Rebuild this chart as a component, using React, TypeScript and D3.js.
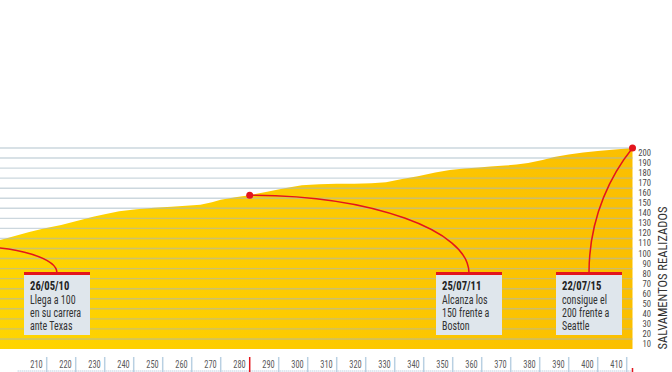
import React, { useEffect, useRef } from "react";
import * as d3 from "d3";

// partido (nº de juego) y salvamentos acumulados
const games = [180, 186, 190, 194, 199, 204, 209, 215, 220, 226, 230, 235, 241, 247, 253, 258, 263, 267, 270, 275, 280, 286, 292, 298, 304, 310, 316, 322, 327, 333, 338, 344, 349, 354, 359, 363, 368, 372, 376, 381, 385, 390, 395, 400, 404, 408, 412];
const saves = [98, 102, 105.5, 108.5, 112.5, 116.5, 120, 123.5, 127, 131.5, 134, 137, 139, 140.5, 141.5, 142.5, 143.5, 146, 148.5, 151, 153, 156.5, 160, 163, 164, 164.5, 164.5, 165, 166, 169.5, 172, 175.5, 178, 179.5, 180.5, 181.5, 182.5, 183.5, 185, 188, 191, 193.5, 195.5, 197, 198, 199, 200];

const xTickValues = [210, 220, 230, 240, 250, 260, 270, 280, 290, 300, 310, 320, 330, 340, 350, 360, 370, 380, 390, 400, 410];
const yTickValues = [10, 20, 30, 40, 50, 60, 70, 80, 90, 100, 110, 120, 130, 140, 150, 160, 170, 180, 190, 200];

const noteGames = [184, 280, 412];
const noteDates = ["26/05/10", "25/07/11", "22/07/15"];
const noteLines = [
  ["Llega a 100", "en su carrera", "ante Texas"],
  ["Alcanza los", "150 frente a", "Boston"],
  ["consigue el", "200 frente a", "Seattle"],
];

const yAxisTitle = "SALVAMENTOS REALIZADOS";

const RED = "#e3151c";
const FONT = "'Liberation Sans Narrow', 'Roboto Condensed', 'Arial Narrow', sans-serif";

export default function App() {
  const svgRef = useRef<SVGSVGElement>(null);

  useEffect(() => {
    const width = 672;
    const height = 372;
    const svg = d3.select(svgRef.current).attr("width", width).attr("height", height);
    svg.selectAll("*").remove();

    const x = d3.scaleLinear().domain([210, 410]).range([46.7, 626.7]);
    const y = d3.scaleLinear().domain([0, 200]).range([349, 148]);

    const data = games.map((g, i) => ({ g, v: saves[i] }));
    const lastX = x(games[games.length - 1]);

    const defs = svg.append("defs");
    const grad = defs
      .append("linearGradient")
      .attr("id", "yel")
      .attr("x1", "0%")
      .attr("x2", "100%")
      .attr("y1", "0%")
      .attr("y2", "0%");
    grad.append("stop").attr("offset", "0%").attr("stop-color", "#ffd600");
    grad.append("stop").attr("offset", "100%").attr("stop-color", "#fbbf00");

    const area = d3
      .area<{ g: number; v: number }>()
      .x((d) => x(d.g))
      .y0(y(0))
      .y1((d) => y(d.v));

    svg.append("path").datum(data).attr("d", area).attr("fill", "url(#yel)");

    // lineas de la cuadricula
    svg
      .append("g")
      .selectAll("line")
      .data(yTickValues)
      .enter()
      .append("line")
      .attr("x1", 0)
      .attr("x2", lastX)
      .attr("y1", (d) => y(d))
      .attr("y2", (d) => y(d))
      .attr("stroke", "#a3b6c2")
      .attr("stroke-opacity", 0.55)
      .attr("stroke-width", 1.4);

    // eje y a la derecha
    svg
      .append("g")
      .selectAll("text")
      .data(yTickValues)
      .enter()
      .append("text")
      .attr("x", 651)
      .attr("y", (d) => y(d) + 5)
      .attr("dy", "0.35em")
      .attr("text-anchor", "end")
      .attr("font-family", FONT)
      .attr("font-size", 8.6)
      .attr("fill", "#4a4a4a")
      .text((d) => d);

    svg
      .append("text")
      .attr("transform", "translate(667,278) rotate(-90)")
      .attr("text-anchor", "middle")
      .attr("font-family", FONT)
      .attr("font-size", 12.5)
      .attr("fill", "#333")
      .text(yAxisTitle);

    // eje x
    svg
      .append("line")
      .attr("x1", x(200))
      .attr("x2", lastX)
      .attr("y1", 371)
      .attr("y2", 371)
      .attr("stroke", "#9cbad3")
      .attr("stroke-width", 1)
      .attr("stroke-dasharray", "1,1");

    svg
      .append("g")
      .selectAll("line")
      .data(xTickValues)
      .enter()
      .append("line")
      .attr("x1", (d) => x(d))
      .attr("x2", (d) => x(d))
      .attr("y1", 357)
      .attr("y2", 372)
      .attr("stroke", (d) => (noteGames.includes(d) ? RED : "#b9d0e2"))
      .attr("stroke-width", 1.5);

    svg
      .append("g")
      .selectAll("text")
      .data(xTickValues)
      .enter()
      .append("text")
      .attr("transform", (d) => `translate(${x(d) - 4},364) scale(0.8,1)`)
      .attr("dy", "0.35em")
      .attr("text-anchor", "end")
      .attr("font-family", FONT)
      .attr("font-size", 10.5)
      .attr("fill", "#5a5a5a")
      .text((d) => d);

    svg
      .append("g")
      .selectAll("line")
      .data(noteGames.filter((g) => !xTickValues.includes(g)))
      .enter()
      .append("line")
      .attr("x1", (d) => x(d))
      .attr("x2", (d) => x(d))
      .attr("y1", 368)
      .attr("y2", 372)
      .attr("stroke", RED)
      .attr("stroke-width", 1.5);

    // anotaciones
    const boxX = [24, 436, 556];
    const boxW = 66;
    const boxTop = 274;
    const boxH = 61;
    const bends = [
      [0.55, 0, 0.55],
      [0.55, 0, 0.55],
      [0.44, 0.19, 0.47],
    ];
    const bis = d3.bisector((d: { g: number }) => d.g).left;

    noteGames.forEach((g, i) => {
      const idx = Math.min(bis(data, g), data.length - 1);
      const p0 = [x(g), y(data[idx].v)];
      const p1 = [boxX[i] + boxW / 2, boxTop - 1];
      const [a, b, c] = bends[i];
      const path = d3.path();
      path.moveTo(p0[0], p0[1]);
      path.bezierCurveTo(
        p0[0] + (p1[0] - p0[0]) * a,
        p0[1] + (p1[1] - p0[1]) * b,
        p1[0],
        p1[1] - (p1[1] - p0[1]) * c,
        p1[0],
        p1[1]
      );
      const gNote = svg.append("g");
      gNote
        .append("path")
        .attr("d", path.toString())
        .attr("fill", "none")
        .attr("stroke", RED)
        .attr("stroke-width", 1.5);
      gNote.append("circle").attr("cx", p0[0]).attr("cy", p0[1]).attr("r", 3.5).attr("fill", RED);
      gNote
        .append("rect")
        .attr("x", boxX[i])
        .attr("y", boxTop)
        .attr("width", boxW)
        .attr("height", boxH)
        .attr("fill", "#dfe6ec");
      gNote
        .append("rect")
        .attr("x", boxX[i])
        .attr("y", boxTop - 2)
        .attr("width", boxW)
        .attr("height", 3)
        .attr("fill", RED);
      gNote
        .append("text")
        .attr("transform", `translate(${boxX[i] + 6},290) scale(0.82,1)`)
        .attr("font-family", FONT)
        .attr("font-size", 13)
        .attr("font-weight", "bold")
        .attr("fill", "#222")
        .text(noteDates[i]);
      noteLines[i].forEach((t, j) => {
        gNote
          .append("text")
          .attr("transform", `translate(${boxX[i] + 6},${304 + j * 13}) scale(0.8,1)`)
          .attr("font-family", FONT)
          .attr("font-size", 12.5)
          .attr("fill", "#333")
          .text(t);
      });
    });
  }, []);

  return <svg ref={svgRef} style={{ position: "absolute", left: 0, top: 0, display: "block" }}></svg>;
}
